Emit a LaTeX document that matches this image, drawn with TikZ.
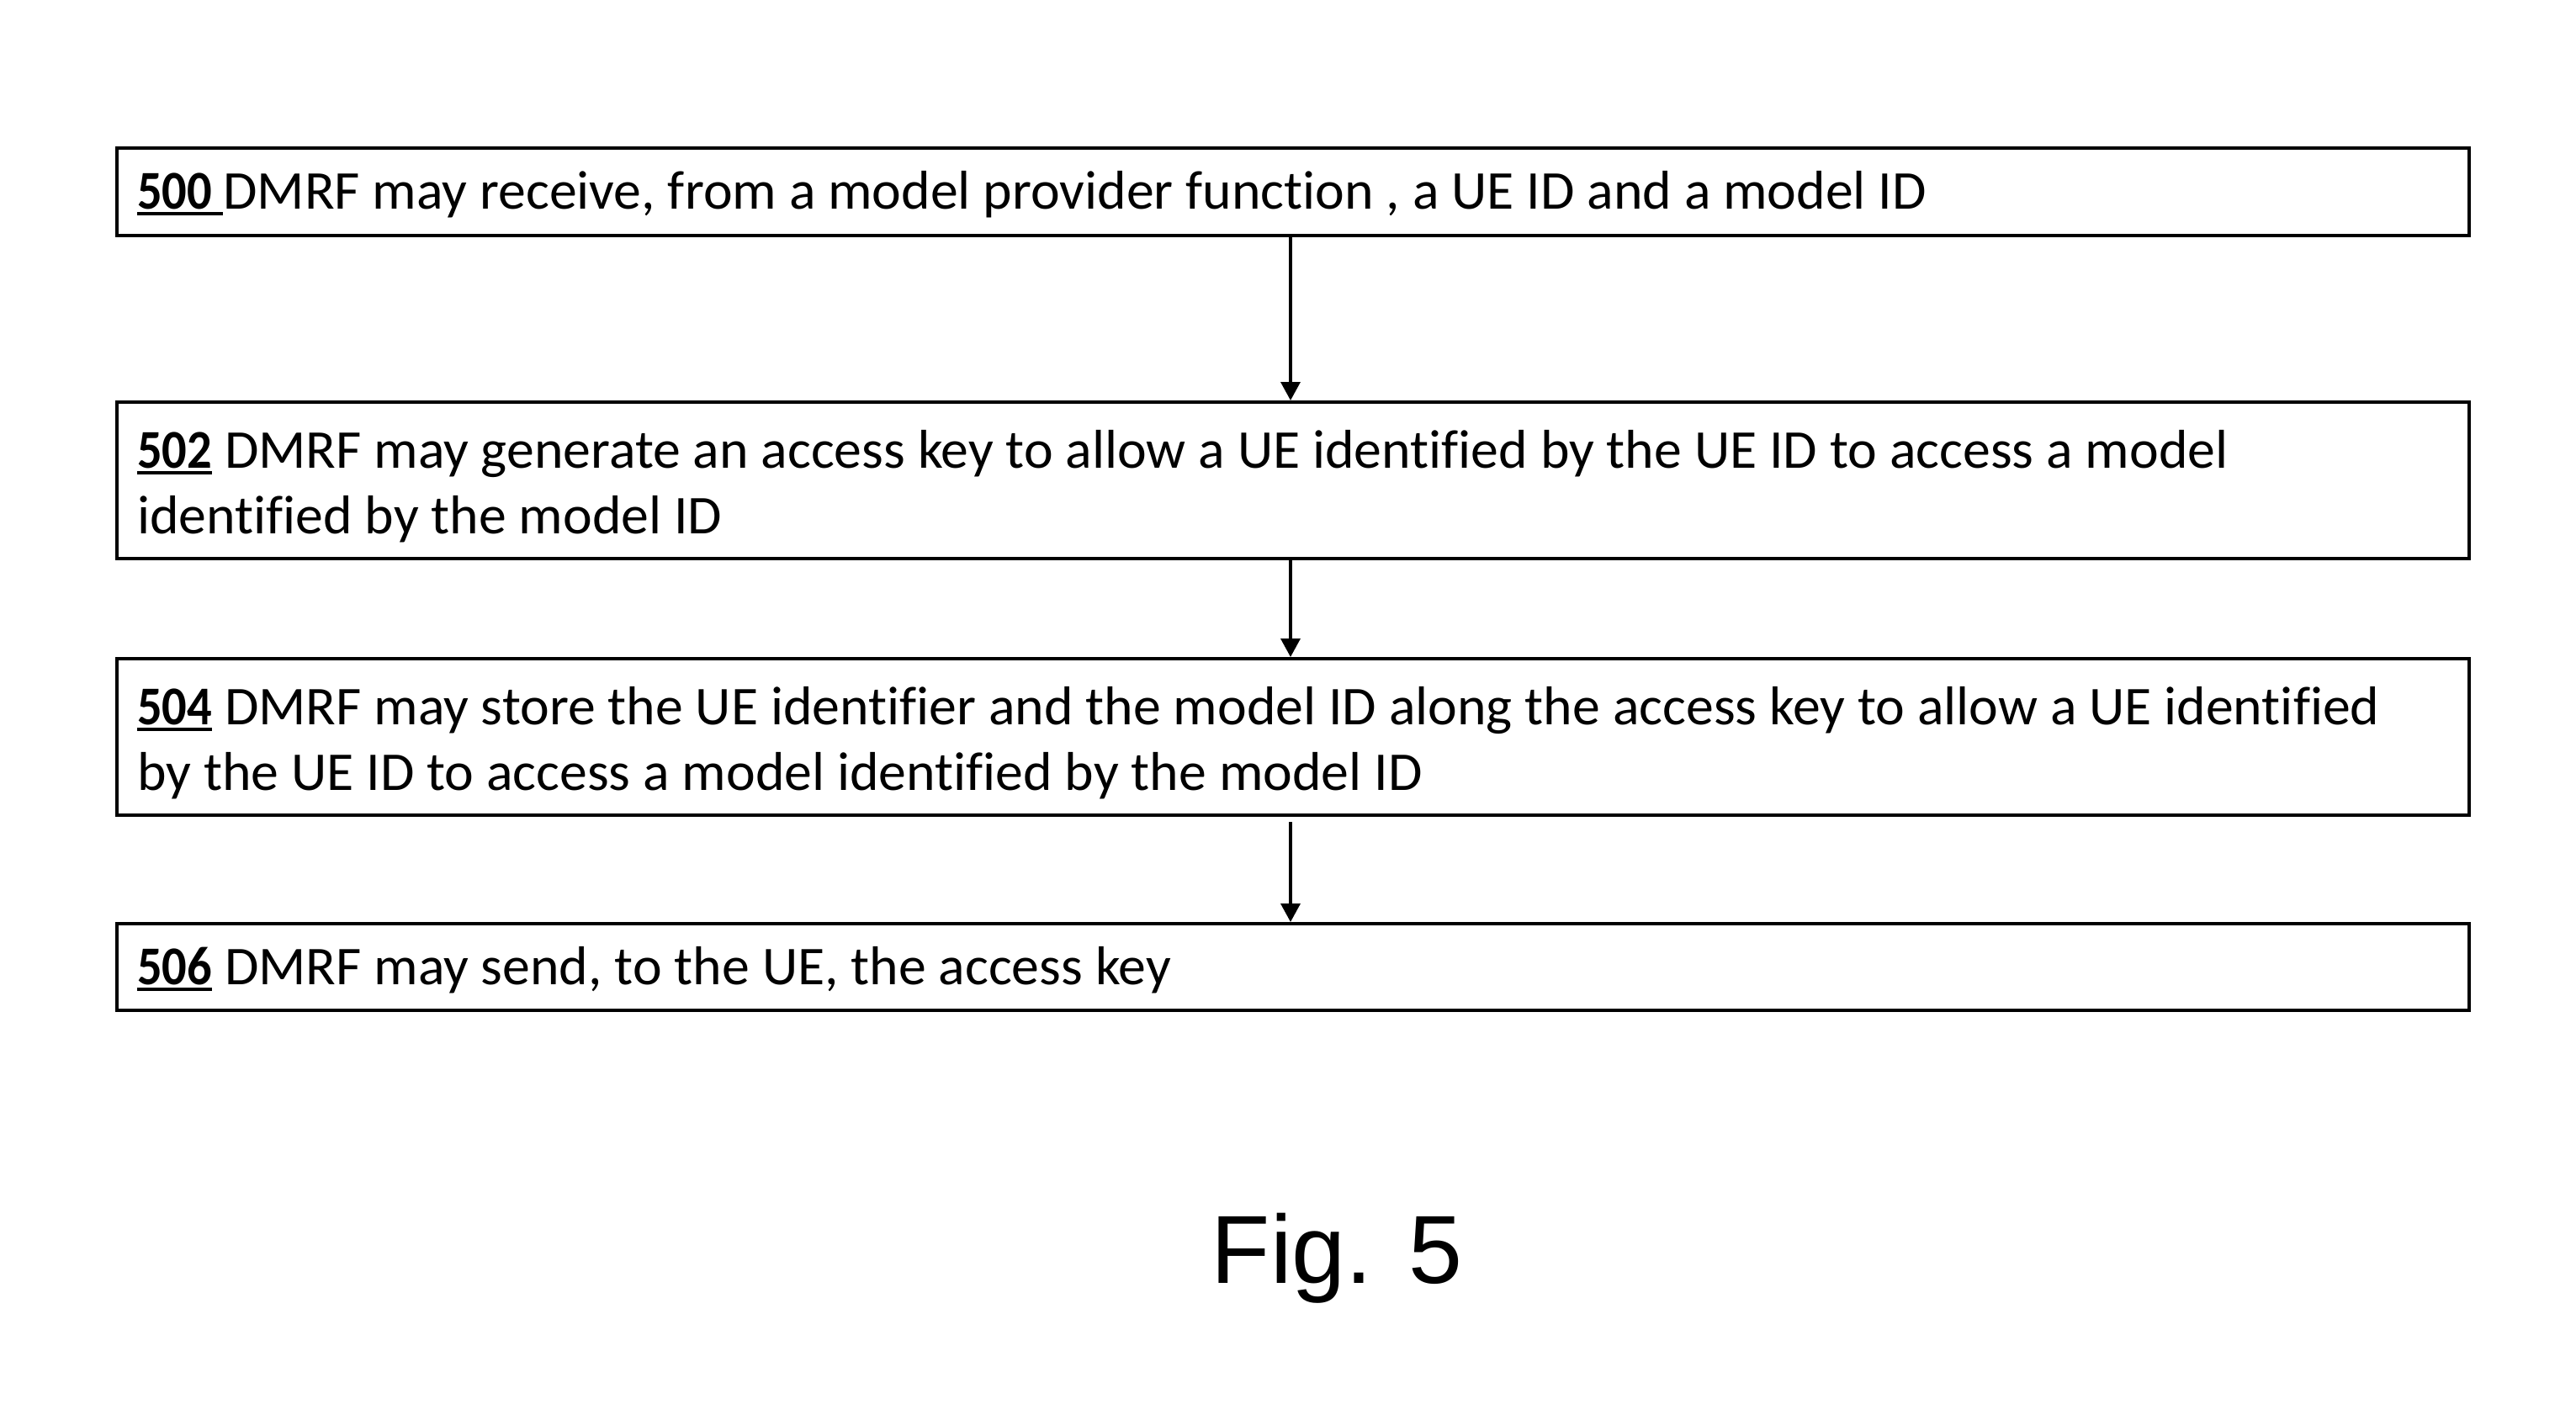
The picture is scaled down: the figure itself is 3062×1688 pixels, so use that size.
\documentclass[tikz,border=0pt]{standalone}
\usepackage{fontspec}
\setmainfont{Carlito}[FakeStretch=1.012,Ligatures=NoCommon,BoldFeatures={FakeStretch=0.9}]
\newfontfamily\figfont{Liberation Sans}
\usetikzlibrary{arrows.meta}
\newcommand\stepnum[1]{\setbox0\hbox{\textbf{#1}}\rlap{\rule[-0.12em]{\wd0}{0.06em}}\box0\relax}
\newcommand\capstrut{\rule{0pt}{60pt}}
\begin{document}
\begin{tikzpicture}[x=1pt,y=-1pt,
  boxshape/.style={draw,line width=4pt,anchor=north west,minimum width=2796pt,inner sep=0pt},
  boxtext/.style={anchor=north west,inner sep=0pt,align=left,
    font=\fontsize{65}{78}\selectfont},
  flow/.style={line width=3.5pt,-{Triangle[width=23pt,length=22pt]}}]
\useasboundingbox (0,0) rectangle (3062,1688);
\node[boxshape,minimum height=104pt] (s500) at (137,174) {};
\node[boxshape,minimum height=186pt] (s502) at (137,476) {};
\node[boxshape,minimum height=186pt] (s504) at (137,781) {};
\node[boxshape,minimum height=103pt] (s506) at (137,1096) {};
\node[boxtext] (t500) at (163,188) {\capstrut\stepnum{500 }DMRF may receive, from a model provider function , a UE ID and a model ID};
\node[boxtext] (t502) at (163,496) {\capstrut\stepnum{502} DMRF may generate an access key to allow a UE identified by the UE ID to access a model\\identified by the model ID};
\node[boxtext] (t504) at (163,801) {\capstrut\stepnum{504} DMRF may store the UE identifier and the model ID along the access key to allow a UE identified\\by the UE ID to access a model identified by the model ID};
\node[boxtext] (t506) at (163,1110) {\capstrut\stepnum{506} DMRF may send, to the UE, the access key};
\coordinate (g3) at (1534,977);
\draw[flow] (s500.south -| g3) -- (s502.north -| g3);
\draw[flow] (s502.south -| g3) -- (s504.north -| g3);
\draw[flow] (g3) -- (s506.north -| g3);
\node[font=\figfont\fontsize{115}{140}\selectfont,anchor=base,inner sep=0pt] (fig) at (1589,1525) {Fig. 5};
\end{tikzpicture}
\end{document}
